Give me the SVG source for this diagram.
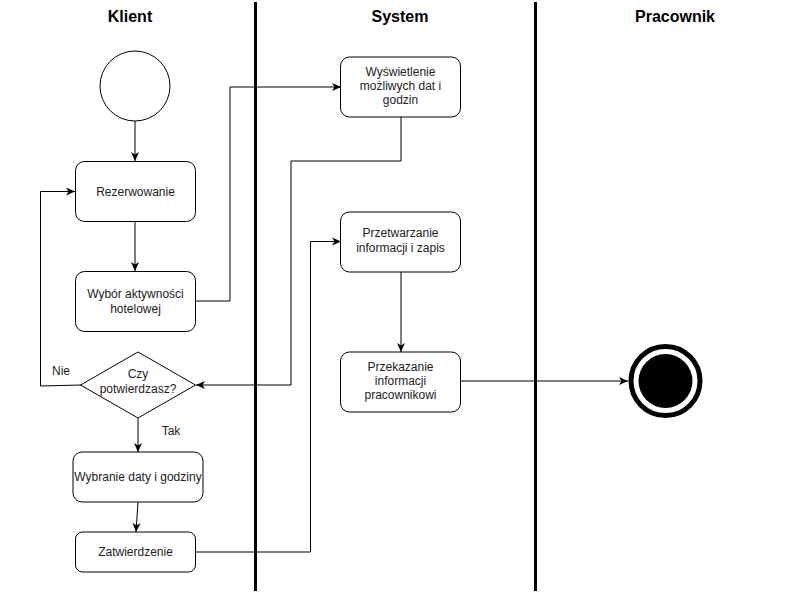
<svg xmlns="http://www.w3.org/2000/svg" width="810" height="594" viewBox="0 0 810 594">
<style>
.box{fill:#fff;stroke:#000;stroke-width:1}
.t{font-family:"Liberation Sans",Arial,sans-serif;font-size:12px;fill:#222;text-anchor:middle}
.h{font-family:"Liberation Sans",Arial,sans-serif;font-size:16px;font-weight:bold;fill:#000;text-anchor:middle}
.lane{stroke:#000;stroke-width:3}
.c{fill:none;stroke:#000;stroke-width:1}
</style>
<defs>
<marker id="arr" markerUnits="userSpaceOnUse" markerWidth="10" markerHeight="10" viewBox="0 0 10 10" refX="9" refY="5" orient="auto">
<path d="M0,1 L9,5 L0,9 L2.5,5 Z" fill="#000"/>
</marker>
</defs>
<rect width="810" height="594" fill="#fff"/>
<g id="lanes">
<line class="lane" x1="255.5" y1="2" x2="255.5" y2="591"/>
<line class="lane" x1="535.5" y1="2" x2="535.5" y2="591"/>
<text class="h" x="130" y="22">Klient</text>
<text class="h" x="400" y="22">System</text>
<text class="h" x="675" y="22">Pracownik</text>
</g>
<g id="connectors">
<path class="c" d="M135,121 L135,161" marker-end="url(#arr)"/>
<path class="c" d="M135,221 L135,271" marker-end="url(#arr)"/>
<path class="c" d="M195,301 L230,301 L230,87 L341,87" marker-end="url(#arr)"/>
<path class="c" d="M401,117 L401,161 L291,161 L291,385 L196,385" marker-end="url(#arr)"/>
<path class="c" d="M81,385 L40.5,386 L40.5,191.5 L75,191.5" marker-end="url(#arr)"/>
<path class="c" d="M138,418 L138,452" marker-end="url(#arr)"/>
<path class="c" d="M138,502 L136,532" marker-end="url(#arr)"/>
<path class="c" d="M195,552 L310.5,552 L310.5,241.5 L341,241.5" marker-end="url(#arr)"/>
<path class="c" d="M401,272 L401,352" marker-end="url(#arr)"/>
<path class="c" d="M461,381 L628,381" marker-end="url(#arr)"/>
<text class="t" x="61" y="375">Nie</text>
<text class="t" x="171" y="435">Tak</text>
</g>
<g id="start">
<circle cx="135" cy="86" r="35" fill="#fff" stroke="#000" stroke-width="1"/>
</g>
<g id="rezerwowanie">
<rect class="box" x="75.5" y="161.5" width="120" height="60" rx="9"/>
<text class="t" x="135.5" y="195.5">Rezerwowanie</text>
</g>
<g id="wybor">
<rect class="box" x="75.5" y="271.5" width="120" height="60" rx="9"/>
<text class="t" x="135.5" y="298">Wybór aktywności</text>
<text class="t" x="135.5" y="313">hotelowej</text>
</g>
<g id="decision">
<path class="box" d="M138,352 L195.5,385 L138,418 L80.5,385 Z"/>
<text class="t" x="138" y="378">Czy</text>
<text class="t" x="138" y="393">potwierdzasz?</text>
</g>
<g id="wybranie">
<rect class="box" x="73" y="452" width="130" height="50" rx="9"/>
<text class="t" x="138" y="480.5">Wybranie daty i godziny</text>
</g>
<g id="zatwierdzenie">
<rect class="box" x="75.5" y="532" width="120" height="40" rx="7"/>
<text class="t" x="135.5" y="556">Zatwierdzenie</text>
</g>
<g id="wyswietlenie">
<rect class="box" x="340.5" y="57" width="120" height="60" rx="9"/>
<text class="t" x="400.5" y="76">Wyświetlenie</text>
<text class="t" x="400.5" y="90">możliwych dat i</text>
<text class="t" x="400.5" y="104">godzin</text>
</g>
<g id="przetwarzanie">
<rect class="box" x="340.5" y="212" width="120" height="60" rx="9"/>
<text class="t" x="400.5" y="237">Przetwarzanie</text>
<text class="t" x="400.5" y="252">informacji i zapis</text>
</g>
<g id="przekazanie">
<rect class="box" x="340.5" y="352" width="120" height="60" rx="9"/>
<text class="t" x="400.5" y="371">Przekazanie</text>
<text class="t" x="400.5" y="385">informacji</text>
<text class="t" x="400.5" y="399">pracownikowi</text>
</g>
<g id="end">
<circle cx="665.5" cy="381" r="34.5" fill="#fff" stroke="#000" stroke-width="5"/>
<circle cx="665.5" cy="381" r="27" fill="#000"/>
</g>
</svg>
